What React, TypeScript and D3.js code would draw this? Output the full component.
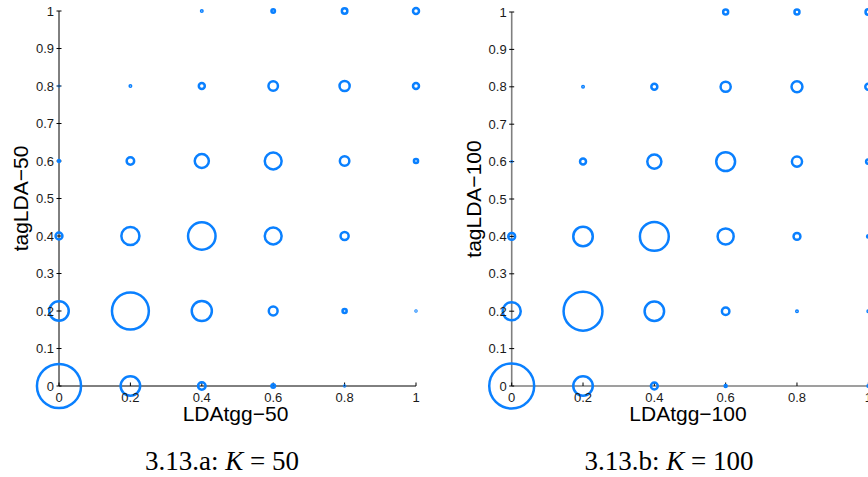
import React from "react";
import * as d3 from "d3";

// grid positions (both axes)
const levels = [0, 0.2, 0.4, 0.6, 0.8, 1];
const yTicks = [0, 0.1, 0.2, 0.3, 0.4, 0.5, 0.6, 0.7, 0.8, 0.9, 1];
const xTicks = [0, 0.2, 0.4, 0.6, 0.8, 1];

// counts per cell; rows = tagLDA level (from 1 down to 0), columns = LDAtgg level (0..1)
const countsK50 = [
  [0, 0, 4, 9, 16, 18], // y = 1
  [2, 4, 18, 36, 40, 18], // y = 0.8
  [5, 25, 69, 94, 36, 11], // y = 0.6
  [22, 106, 225, 94, 28, 0], // y = 0.4
  [121, 388, 128, 32, 11, 3], // y = 0.2
  [543, 121, 25, 9, 3, 0], // y = 0
];
const countsK100 = [
  [0, 0, 0, 14, 14, 16],
  [0, 4, 18, 40, 45, 18],
  [2, 18, 69, 114, 40, 12],
  [22, 121, 246, 86, 22, 6],
  [106, 428, 121, 25, 4, 4],
  [562, 121, 22, 5, 0, 4],
];
const rowLevels = [1, 0.8, 0.6, 0.4, 0.2, 0];

const panels = [
  {
    counts: countsK50,
    xLabel: "LDAtgg\u221250",
    yLabel: "tagLDA\u221250",
    caption: ["3.13.a: ", "K", " = 50"],
  },
  {
    counts: countsK100,
    xLabel: "LDAtgg\u2212100",
    yLabel: "tagLDA\u2212100",
    caption: ["3.13.b: ", "K", " = 100"],
  },
];

const layouts = [
  { x0: 59, x1: 416, y0: 386, y1: 11, axisColor: "#000", axisWidth: 1, capX: 222 },
  { x0: 511.7, x1: 868.3, y0: 386, y1: 12, axisColor: "#7f7f7f", axisWidth: 1.6, capX: 669 },
];

const BLUE = "#0a80ff";
const rScale = d3.scaleSqrt().domain([0, 550]).range([0, 23.45]);
const SW = 2.5;

function Panel({ p, l }: any) {
  const x = d3.scaleLinear().domain([0, 1]).range([l.x0, l.x1]);
  const y = d3.scaleLinear().domain([0, 1]).range([l.y0, l.y1]);
  const pts: any[] = [];
  p.counts.forEach((row: number[], i: number) =>
    row.forEach((c: number, j: number) => {
      if (c > 0) pts.push({ x: levels[j], y: rowLevels[i], c });
    })
  );
  const sans = "'Liberation Sans', Arial, sans-serif";
  return (
    <g>
      <line x1={l.x0} x2={l.x1} y1={l.y0} y2={l.y0} stroke={l.axisColor} strokeWidth={l.axisWidth} />
      <line x1={l.x0} x2={l.x0} y1={l.y0} y2={l.y1} stroke={l.axisColor} strokeWidth={l.axisWidth} />
      {yTicks.map((t) => (
        <line key={"yt" + t} x1={l.x0 - 2.5} x2={l.x0 + 2.5} y1={y(t)} y2={y(t)} stroke="#000" strokeWidth={1} />
      ))}
      {xTicks.map((t) => (
        <line key={"xt" + t} x1={x(t)} x2={x(t)} y1={l.y0} y2={l.y0 - 3.5} stroke="#000" strokeWidth={1} />
      ))}
      {pts.map((d, k) => {
        const ro = rScale(d.c);
        return (
          <circle
            key={k}
            cx={x(d.x)}
            cy={y(d.y)}
            r={Math.max(0.3, ro - SW / 2)}
            fill="none"
            stroke={BLUE}
            strokeWidth={SW}
          />
        );
      })}
      {yTicks.map((t) => (
        <text
          key={"yl" + t}
          x={l.x0 - 5}
          y={y(t)}
          dy="0.36em"
          textAnchor="end"
          fontFamily={sans}
          fontSize={13}
          fill="#1a1a1a"
        >
          {d3.format("~g")(t)}
        </text>
      ))}
      {xTicks.map((t) => (
        <text
          key={"xl" + t}
          x={x(t)}
          y={l.y0 + 11.5}
          dy="0.36em"
          textAnchor="middle"
          fontFamily={sans}
          fontSize={13}
          fill="#1a1a1a"
        >
          {d3.format("~g")(t)}
        </text>
      ))}
      <text
        x={(l.x0 + l.x1) / 2 - 2}
        y={l.y0 + 35}
        textAnchor="middle"
        fontFamily={sans}
        fontSize={21}
        fill="#000"
      >
        {p.xLabel}
      </text>
      <text
        transform={`translate(${l.x0 - 31},${(l.y0 + l.y1) / 2}) rotate(-90)`}
        textAnchor="middle"
        fontFamily={sans}
        fontSize={21}
        fill="#000"
      >
        {p.yLabel}
      </text>
      <text
        x={l.capX}
        y={470}
        textAnchor="middle"
        fontFamily="'Liberation Serif', 'Times New Roman', serif"
        fontSize={27}
        fill="#000"
      >
        <tspan>{p.caption[0]}</tspan>
        <tspan fontStyle="italic">{p.caption[1]}</tspan>
        <tspan>{p.caption[2]}</tspan>
      </text>
    </g>
  );
}

export default function App() {
  return (
    <svg
      width={868}
      height={477}
      style={{ position: "absolute", left: 0, top: 0, background: "#fff" }}
    >
      <rect width={868} height={477} fill="#fff" />
      {panels.map((p, i) => (
        <Panel key={i} p={p} l={layouts[i]} />
      ))}
    </svg>
  );
}
